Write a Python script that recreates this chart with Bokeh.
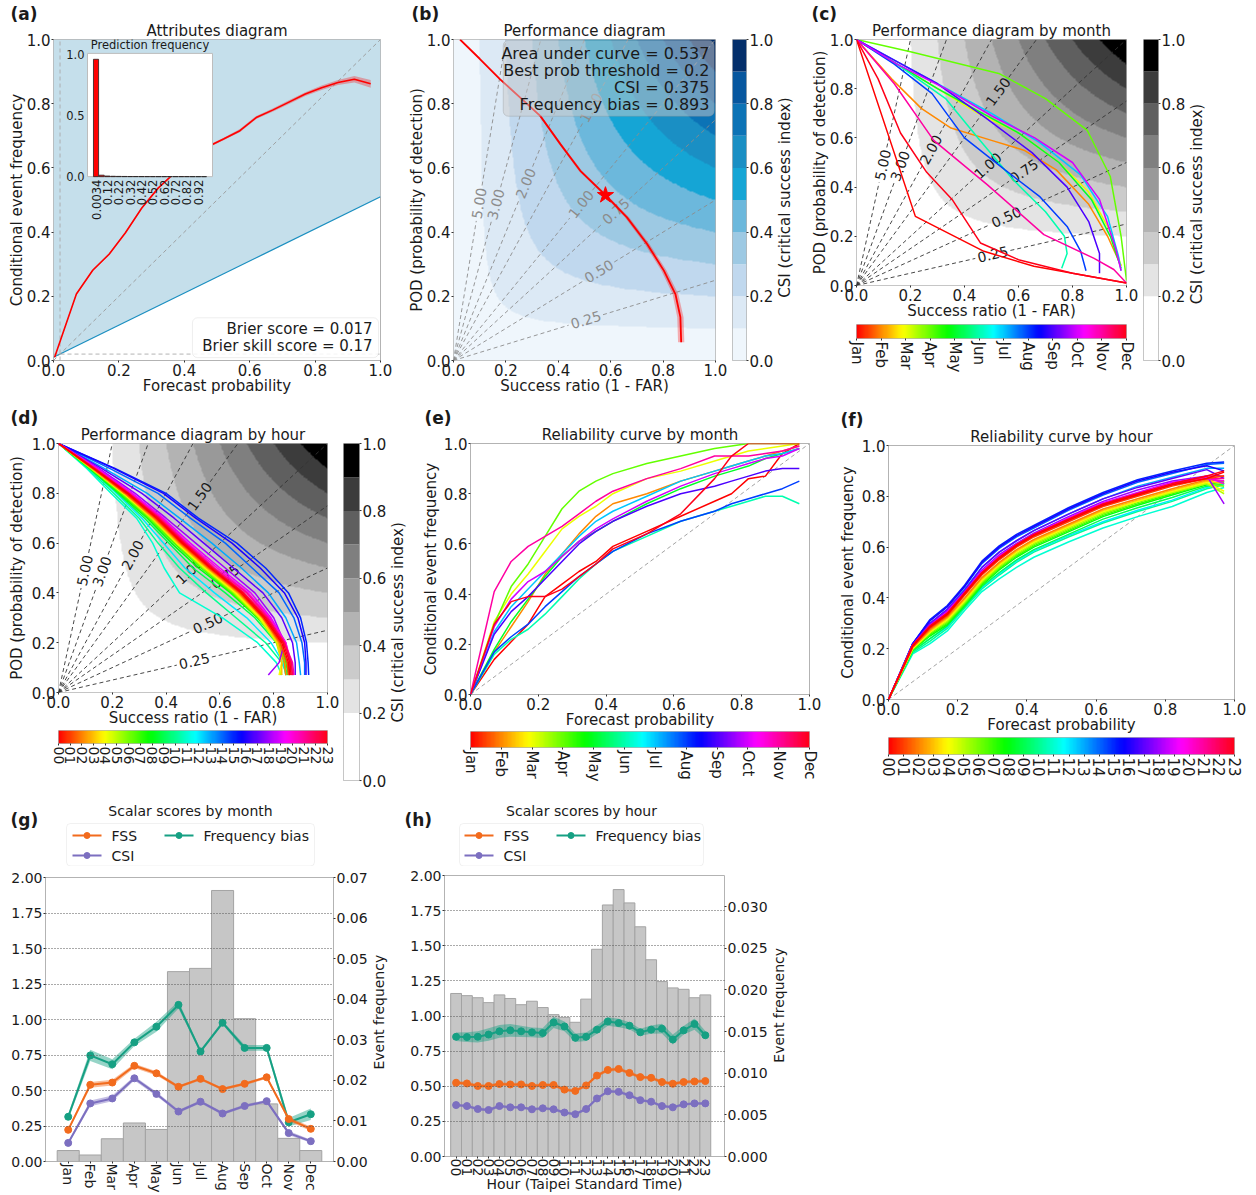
import math
import numpy as np
from bokeh.plotting import figure
from bokeh.layouts import row, column
from bokeh.models import (Range1d, LinearAxis, FixedTicker, PrintfTickFormatter, Label, Title,
                          BoxAnnotation, LinearColorMapper, Spacer)
from bokeh.embed import file_html
from bokeh.resources import INLINE
from bokeh.core.properties import value

FONT = "DejaVu Sans"
TXT = "#1a1a1a"

# ---------------------------------------------------------------- data
MONTHS = ["Jan", "Feb", "Mar", "Apr", "May", "Jun", "Jul", "Aug", "Sep", "Oct", "Nov", "Dec"]
HOURS = ["00", "01", "02", "03", "04", "05", "06", "07", "08", "09", "10", "11",
         "12", "13", "14", "15", "16", "17", "18", "19", "20", "21", "22", "23"]
UNIT_TICKS = [0.0, 0.2, 0.4, 0.6, 0.8, 1.0]
CSI_LEVELS = [0.0, 0.1, 0.2, 0.3, 0.4, 0.5, 0.6, 0.7, 0.8, 0.9, 1.0]
BLUES = ["#eff6fc", "#dce9f5", "#c0d8ee", "#9dc9e3", "#6cb8dc", "#15a5d5",
         "#1a8fc4", "#0c73b6", "#07579f", "#042f6b"]
GREYS = ["#ffffff", "#ffffff", "#e4e4e4", "#cbcbcb", "#b3b3b3", "#999999",
         "#7f7f7f", "#5f5f5f", "#3c3c3c", "#000000"]
BIAS_VALUES = [0.25, 0.5, 0.75, 1.0, 1.5, 2.0, 3.0, 5.0]
BIAS_LABEL_X = [0.505, 0.555, 0.62, 0.487, 0.525, 0.276, 0.162, 0.098]

# (a) attributes diagram
A_X = [0.0034, 0.07, 0.12, 0.17, 0.22, 0.27, 0.32, 0.37, 0.42, 0.47, 0.52, 0.57, 0.62, 0.67,
       0.72, 0.77, 0.82, 0.87, 0.92, 0.97]
A_Y = [0.01, 0.207, 0.281, 0.331, 0.398, 0.475, 0.537, 0.584, 0.63, 0.665, 0.69, 0.716, 0.757,
       0.78, 0.805, 0.83, 0.85, 0.866, 0.876, 0.862]
A_ERR = [0.002, 0.003, 0.003, 0.003, 0.003, 0.003, 0.003, 0.004, 0.004, 0.004, 0.004, 0.005,
         0.005, 0.005, 0.006, 0.006, 0.007, 0.008, 0.010, 0.012]
A_CLIM = 0.02
A_HIST = [0.96, 0.012, 0.005, 0.003, 0.002, 0.0015, 0.001, 0.001, 0.0008, 0.0006, 0.0005,
          0.0004, 0.0003, 0.0003, 0.0002, 0.0002, 0.0002, 0.0001, 0.0001, 0.0001]
A_HIST_LABELS = ["0.0034", "0.07", "0.12", "0.17", "0.22", "0.27", "0.32", "0.37", "0.42", "0.47",
                 "0.52", "0.57", "0.62", "0.67", "0.72", "0.77", "0.82", "0.87", "0.92", "0.97"]
A_TEXT = ["Brier score = 0.017", "Brier skill score = 0.17"]

# (b) performance diagram
B_SR = [0.025, 0.10, 0.178, 0.26, 0.331, 0.408, 0.484, 0.58, 0.662, 0.739, 0.803, 0.847, 0.866, 0.869]
B_POD = [1.0, 0.94, 0.876, 0.815, 0.762, 0.674, 0.591, 0.515, 0.446, 0.363, 0.28, 0.207, 0.135, 0.057]
B_ERR = [0.002, 0.002, 0.003, 0.003, 0.004, 0.005, 0.006, 0.007, 0.008, 0.009, 0.010, 0.011, 0.012, 0.012]
B_STAR = (0.58, 0.515)
B_TEXT = ["Area under curve = 0.537", "Best prob threshold = 0.2", "CSI = 0.375",
          "Frequency bias = 0.893"]

# (c) performance by month
C_SR = [
    [0.0, 0.218, 0.472, 0.657, 1.0],
    [0.0, 0.13, 0.24, 0.35, 0.5, 0.62, 0.74, 0.86, 0.93, 0.98],
    [0.0, 0.15, 0.3, 0.45, 0.6, 0.75, 0.86, 0.94, 0.98],
    [0.0, 0.2, 0.527, 0.7, 0.854, 0.94, 0.98, 1.0],
    [0.0, 0.15, 0.3, 0.45, 0.6, 0.75, 0.87, 0.94, 0.98],
    [0.0, 0.15, 0.33, 0.45, 0.58, 0.7, 0.77, 0.78, 0.76],
    [0.0, 0.15, 0.3, 0.5, 0.68, 0.83, 0.93, 0.97, 0.98],
    [0.0, 0.14, 0.28, 0.4, 0.55, 0.68, 0.78, 0.83, 0.85],
    [0.0, 0.15, 0.3, 0.48, 0.65, 0.78, 0.86, 0.9, 0.9],
    [0.0, 0.15, 0.33, 0.5, 0.66, 0.8, 0.9, 0.96, 0.98],
    [0.0, 0.14, 0.286, 0.484, 0.694, 0.88, 0.953, 1.0],
    [0.0, 0.08, 0.163, 0.26, 0.354, 0.459, 0.6, 0.8, 1.0],
]
C_POD = [
    [1.0, 0.281, 0.139, 0.078, 0.01],
    [1.0, 0.84, 0.72, 0.64, 0.59, 0.55, 0.47, 0.33, 0.2, 0.08],
    [1.0, 0.9, 0.8, 0.7, 0.62, 0.5, 0.38, 0.22, 0.08],
    [1.0, 0.95, 0.862, 0.76, 0.632, 0.443, 0.2, 0.02],
    [1.0, 0.9, 0.8, 0.71, 0.62, 0.5, 0.35, 0.2, 0.07],
    [1.0, 0.9, 0.76, 0.6, 0.43, 0.3, 0.2, 0.13, 0.07],
    [1.0, 0.91, 0.82, 0.7, 0.58, 0.45, 0.28, 0.12, 0.06],
    [1.0, 0.9, 0.78, 0.6, 0.47, 0.36, 0.24, 0.14, 0.06],
    [1.0, 0.91, 0.82, 0.68, 0.54, 0.4, 0.26, 0.13, 0.05],
    [1.0, 0.9, 0.8, 0.69, 0.6, 0.5, 0.35, 0.15, 0.06],
    [1.0, 0.82, 0.59, 0.41, 0.207, 0.11, 0.065, 0.01],
    [1.0, 0.84, 0.62, 0.46, 0.35, 0.173, 0.105, 0.05, 0.01],
]

# (d) performance by hour (success ratio at shared POD levels)
D_POD = [1.0, 0.9, 0.8, 0.7, 0.6, 0.5, 0.4, 0.3, 0.2, 0.12, 0.07]
D_SR = [
    [0, 0.13, 0.255, 0.365, 0.46, 0.565, 0.68, 0.765, 0.83, 0.855, 0.86],
    [0, 0.13, 0.25, 0.36, 0.455, 0.56, 0.675, 0.76, 0.825, 0.85, 0.855],
    [0, 0.125, 0.245, 0.355, 0.45, 0.555, 0.67, 0.76, 0.82, 0.84, 0.845],
    [0, 0.125, 0.245, 0.35, 0.445, 0.55, 0.665, 0.755, 0.815, 0.83, 0.83],
    [0, 0.125, 0.24, 0.35, 0.44, 0.545, 0.66, 0.75, 0.815, 0.83, 0.82],
    [0, 0.12, 0.24, 0.345, 0.44, 0.54, 0.655, 0.745, 0.81, 0.83, 0.825],
    [0, 0.12, 0.235, 0.34, 0.435, 0.535, 0.65, 0.745, 0.815, 0.84, 0.845],
    [0, 0.12, 0.23, 0.335, 0.43, 0.53, 0.645, 0.74, 0.82, 0.845, 0.855],
    [0, 0.115, 0.225, 0.33, 0.42, 0.52, 0.64, 0.74, 0.82, 0.85, 0.86],
    [0, 0.115, 0.22, 0.32, 0.41, 0.5, 0.62, 0.73, 0.81, 0.84, 0.85],
    [0, 0.11, 0.205, 0.3, 0.37, 0.45, 0.55, 0.66, 0.77, 0.83, 0.85],
    [0, 0.105, 0.195, 0.29, 0.35, 0.393, 0.45, 0.61, 0.74, 0.81, 0.83],
    [0, 0.115, 0.215, 0.31, 0.39, 0.47, 0.58, 0.7, 0.79, 0.835, 0.845],
    [0, 0.17, 0.33, 0.45, 0.57, 0.68, 0.78, 0.845, 0.885, 0.895, 0.9],
    [0, 0.19, 0.37, 0.49, 0.62, 0.72, 0.82, 0.875, 0.905, 0.915, 0.915],
    [0, 0.21, 0.40, 0.52, 0.663, 0.77, 0.855, 0.90, 0.922, 0.928, 0.93],
    [0, 0.205, 0.39, 0.51, 0.645, 0.75, 0.84, 0.89, 0.915, 0.92, 0.92],
    [0, 0.16, 0.31, 0.43, 0.54, 0.65, 0.76, 0.83, 0.87, 0.88, 0.88],
    [0, 0.15, 0.285, 0.4, 0.51, 0.62, 0.73, 0.8, 0.84, 0.82, 0.78],
    [0, 0.145, 0.275, 0.39, 0.49, 0.6, 0.715, 0.79, 0.845, 0.86, 0.86],
    [0, 0.14, 0.27, 0.385, 0.48, 0.59, 0.705, 0.785, 0.845, 0.865, 0.87],
    [0, 0.135, 0.265, 0.38, 0.475, 0.58, 0.7, 0.78, 0.84, 0.87, 0.875],
    [0, 0.135, 0.26, 0.375, 0.47, 0.575, 0.69, 0.775, 0.84, 0.865, 0.87],
    [0, 0.13, 0.26, 0.37, 0.465, 0.57, 0.685, 0.77, 0.835, 0.86, 0.865],
]

# (e) reliability by month
E_X = [0, 0.07, 0.12, 0.17, 0.22, 0.27, 0.32, 0.37, 0.42, 0.52, 0.62, 0.72, 0.77, 0.82, 0.87, 0.92, 0.97]
E_Y = [
    [0, 0.14, 0.21, 0.28, 0.39, 0.44, 0.49, 0.53, 0.59, 0.65, 0.71, 0.77, 0.80, 0.86, 0.87, 0.96, 1.0],
    [0, 0.17, 0.27, 0.37, 0.48, 0.56, 0.64, 0.71, 0.76, 0.80, 0.85, 0.89, 0.91, 0.93, 0.95, 0.97, 0.99],
    [0, 0.29, 0.40, 0.48, 0.57, 0.66, 0.71, 0.75, 0.80, 0.86, 0.89, 0.93, 0.95, 0.97, 0.98, 0.99, 1.0],
    [0, 0.28, 0.43, 0.52, 0.63, 0.74, 0.81, 0.85, 0.88, 0.92, 0.95, 0.98, 0.99, 1.0, 1.0, 1.0, 1.0],
    [0, 0.18, 0.29, 0.38, 0.47, 0.55, 0.61, 0.65, 0.69, 0.76, 0.82, 0.87, 0.89, 0.91, 0.94, 0.96, 0.98],
    [0, 0.16, 0.22, 0.26, 0.32, 0.39, 0.46, 0.52, 0.57, 0.63, 0.69, 0.73, 0.75, 0.77, 0.79, 0.79, 0.76],
    [0, 0.25, 0.35, 0.42, 0.49, 0.56, 0.63, 0.69, 0.73, 0.79, 0.85, 0.89, 0.91, 0.93, 0.95, 0.96, 0.98],
    [0, 0.17, 0.23, 0.28, 0.35, 0.41, 0.47, 0.52, 0.57, 0.64, 0.69, 0.73, 0.76, 0.78, 0.80, 0.82, 0.85],
    [0, 0.24, 0.33, 0.39, 0.46, 0.53, 0.60, 0.65, 0.69, 0.75, 0.80, 0.83, 0.85, 0.87, 0.89, 0.90, 0.90],
    [0, 0.27, 0.38, 0.45, 0.49, 0.55, 0.61, 0.66, 0.70, 0.77, 0.83, 0.88, 0.90, 0.92, 0.94, 0.95, 0.98],
    [0, 0.41, 0.53, 0.59, 0.63, 0.67, 0.72, 0.77, 0.81, 0.86, 0.90, 0.95, 0.95, 0.95, 0.96, 0.97, 0.99],
    [0, 0.28, 0.37, 0.39, 0.39, 0.42, 0.47, 0.52, 0.58, 0.64, 0.72, 0.86, 0.95, 1.0, 1.0, 1.0, 1.0],
]

# (f) reliability by hour
F_X = [0, 0.07, 0.12, 0.17, 0.22, 0.27, 0.32, 0.37, 0.42, 0.52, 0.62, 0.72, 0.82, 0.92, 0.97]
F_Y = [
    [0, 0.21, 0.285, 0.335, 0.415, 0.495, 0.555, 0.605, 0.645, 0.705, 0.765, 0.805, 0.845, 0.87, 0.895],
    [0, 0.21, 0.28, 0.33, 0.41, 0.49, 0.55, 0.60, 0.64, 0.70, 0.76, 0.80, 0.84, 0.87, 0.88],
    [0, 0.205, 0.275, 0.325, 0.40, 0.48, 0.54, 0.59, 0.63, 0.69, 0.75, 0.79, 0.83, 0.865, 0.86],
    [0, 0.205, 0.27, 0.32, 0.395, 0.475, 0.535, 0.585, 0.625, 0.685, 0.745, 0.785, 0.825, 0.86, 0.85],
    [0, 0.2, 0.265, 0.315, 0.39, 0.47, 0.53, 0.58, 0.62, 0.68, 0.74, 0.78, 0.82, 0.855, 0.82],
    [0, 0.2, 0.265, 0.31, 0.385, 0.465, 0.525, 0.575, 0.615, 0.675, 0.735, 0.78, 0.815, 0.85, 0.81],
    [0, 0.2, 0.26, 0.305, 0.38, 0.46, 0.52, 0.57, 0.61, 0.67, 0.73, 0.775, 0.815, 0.85, 0.84],
    [0, 0.195, 0.255, 0.3, 0.375, 0.455, 0.515, 0.565, 0.605, 0.665, 0.725, 0.77, 0.81, 0.85, 0.855],
    [0, 0.195, 0.25, 0.295, 0.37, 0.45, 0.51, 0.56, 0.60, 0.66, 0.72, 0.765, 0.805, 0.845, 0.86],
    [0, 0.19, 0.24, 0.29, 0.365, 0.445, 0.5, 0.55, 0.59, 0.65, 0.71, 0.755, 0.795, 0.84, 0.85],
    [0, 0.185, 0.23, 0.28, 0.36, 0.435, 0.49, 0.54, 0.58, 0.64, 0.695, 0.74, 0.78, 0.83, 0.845],
    [0, 0.18, 0.22, 0.27, 0.35, 0.425, 0.475, 0.52, 0.56, 0.62, 0.675, 0.72, 0.76, 0.815, 0.835],
    [0, 0.19, 0.24, 0.285, 0.365, 0.44, 0.495, 0.545, 0.585, 0.645, 0.7, 0.745, 0.785, 0.835, 0.85],
    [0, 0.215, 0.3, 0.355, 0.435, 0.52, 0.58, 0.625, 0.665, 0.73, 0.79, 0.84, 0.875, 0.91, 0.91],
    [0, 0.22, 0.31, 0.365, 0.445, 0.535, 0.595, 0.64, 0.675, 0.745, 0.805, 0.855, 0.89, 0.925, 0.93],
    [0, 0.22, 0.315, 0.37, 0.45, 0.545, 0.605, 0.65, 0.685, 0.755, 0.815, 0.865, 0.9, 0.93, 0.935],
    [0, 0.22, 0.31, 0.365, 0.445, 0.54, 0.60, 0.645, 0.68, 0.75, 0.81, 0.86, 0.895, 0.92, 0.90],
    [0, 0.215, 0.3, 0.355, 0.43, 0.52, 0.58, 0.625, 0.665, 0.73, 0.79, 0.835, 0.87, 0.905, 0.87],
    [0, 0.215, 0.295, 0.35, 0.425, 0.51, 0.57, 0.615, 0.655, 0.72, 0.78, 0.825, 0.86, 0.88, 0.77],
    [0, 0.215, 0.29, 0.345, 0.42, 0.505, 0.565, 0.61, 0.65, 0.715, 0.775, 0.815, 0.855, 0.875, 0.85],
    [0, 0.21, 0.29, 0.34, 0.42, 0.5, 0.56, 0.61, 0.65, 0.71, 0.77, 0.81, 0.85, 0.87, 0.86],
    [0, 0.21, 0.285, 0.34, 0.415, 0.5, 0.56, 0.605, 0.645, 0.71, 0.77, 0.81, 0.845, 0.87, 0.87],
    [0, 0.21, 0.285, 0.335, 0.415, 0.495, 0.555, 0.605, 0.645, 0.705, 0.765, 0.805, 0.845, 0.88, 0.88],
    [0, 0.215, 0.29, 0.34, 0.42, 0.5, 0.56, 0.61, 0.65, 0.71, 0.77, 0.81, 0.85, 0.88, 0.90],
]
# drawing order of the hourly curves (later = on top)
HOUR_ORDER = [11, 10, 12, 9, 8, 7, 6, 5, 4, 3, 2, 13, 14, 15, 16, 17, 18, 19, 20, 21, 22, 23, 1, 0]

# (g) scalar scores by month
G_FREQ = [0.0027, 0.0016, 0.0056, 0.0095, 0.0079, 0.0468, 0.0476, 0.0668, 0.0352, 0.0142, 0.0057, 0.0027]
G_FSS = [0.223, 0.540, 0.556, 0.674, 0.621, 0.526, 0.582, 0.510, 0.547, 0.593, 0.299, 0.230]
G_CSI = [0.131, 0.409, 0.444, 0.586, 0.476, 0.352, 0.421, 0.338, 0.391, 0.425, 0.200, 0.143]
G_BIAS = [0.315, 0.747, 0.685, 0.839, 0.949, 1.103, 0.775, 0.977, 0.800, 0.800, 0.276, 0.333]
G_FSS_ERR = [0.01, 0.02, 0.02, 0.015, 0.015, 0.01, 0.01, 0.01, 0.01, 0.01, 0.015, 0.015]
G_CSI_ERR = [0.01, 0.02, 0.02, 0.015, 0.015, 0.01, 0.01, 0.01, 0.01, 0.01, 0.015, 0.01]
G_BIAS_ERR = [0.02, 0.04, 0.035, 0.025, 0.035, 0.025, 0.012, 0.012, 0.02, 0.02, 0.03, 0.04]

# (h) scalar scores by hour
H_FREQ = [0.01958, 0.01932, 0.01907, 0.01848, 0.01941, 0.01898, 0.01823, 0.01865, 0.01789, 0.01704,
          0.01671, 0.01612, 0.0189, 0.02489, 0.03021, 0.03206, 0.03046, 0.02759, 0.02363, 0.02101,
          0.02025, 0.02008, 0.01907, 0.01941]
H_BIAS = [0.852, 0.850, 0.852, 0.868, 0.891, 0.898, 0.891, 0.884, 0.879, 0.954, 0.926, 0.845,
          0.852, 0.903, 0.961, 0.950, 0.931, 0.884, 0.903, 0.910, 0.833, 0.898, 0.943, 0.863]
H_FSS = [0.525, 0.520, 0.502, 0.502, 0.516, 0.513, 0.513, 0.502, 0.509, 0.509, 0.476, 0.467,
         0.506, 0.576, 0.616, 0.623, 0.595, 0.565, 0.560, 0.530, 0.518, 0.530, 0.534, 0.537]
H_CSI = [0.366, 0.359, 0.338, 0.331, 0.359, 0.350, 0.350, 0.336, 0.343, 0.336, 0.313, 0.301,
         0.338, 0.413, 0.464, 0.460, 0.436, 0.401, 0.390, 0.359, 0.350, 0.371, 0.378, 0.378]
H_BIAS_ERR = [0.03, 0.035, 0.04, 0.045, 0.045, 0.045, 0.04, 0.035, 0.035, 0.04, 0.035, 0.03,
              0.03, 0.03, 0.03, 0.03, 0.025, 0.025, 0.03, 0.035, 0.035, 0.03, 0.04, 0.03]
H_FSS_ERR = [0.012] * 24
H_CSI_ERR = [0.01] * 24

FSS_C = "#f26b1d"
CSI_C = "#7c6fc0"
BIAS_C = "#16a083"


# ---------------------------------------------------------------- helpers
def mpl_hsv(v):
    r = np.interp(v, [0, 0.158730, 0.174603, 0.333333, 0.349206, 0.666667, 0.682540, 0.841270, 0.857143, 1],
                  [1, 1, 0.96875, 0.03125, 0, 0, 0.03125, 0.96875, 1, 1])
    g = np.interp(v, [0, 0.158730, 0.174603, 0.507937, 0.666667, 0.682540, 1],
                  [0, 0.9375, 1, 1, 0.0625, 0, 0])
    b = np.interp(v, [0, 0.333333, 0.349206, 0.507937, 0.841270, 0.857143, 1],
                  [0, 0, 0.0625, 1, 1, 0.9375, 0.09375])
    return "#%02x%02x%02x" % (int(round(r * 255)), int(round(g * 255)), int(round(b * 255)))


HSV256 = [mpl_hsv(i / 255) for i in range(256)]
MONTH_COLORS = [mpl_hsv(i / 11) for i in range(12)]
HOUR_COLORS = [mpl_hsv(i / 23) for i in range(24)]


def style_axis(ax, fs="15px", label_standoff=-2):
    ax.major_label_text_font = FONT
    ax.major_label_text_font_size = fs
    ax.major_label_text_color = TXT
    ax.axis_label_text_font = FONT
    ax.axis_label_text_font_size = fs
    ax.axis_label_text_font_style = "normal"
    ax.axis_label_text_color = TXT
    ax.axis_line_color = None
    ax.major_tick_line_color = "#333333"
    ax.major_tick_out = 2
    ax.major_tick_in = 0
    ax.minor_tick_line_color = None
    ax.major_label_standoff = 1
    ax.axis_label_standoff = label_standoff


def mkfig(fl, fw, fr, ft, fh, fb, xr, yr, xaxis=True, yaxis=True, outline="#b3b3b3"):
    p = figure(width=fl + fw + fr, height=ft + fh + fb, x_range=xr, y_range=yr,
               output_backend="svg", toolbar_location=None,
               x_axis_location="below" if xaxis else None,
               y_axis_location="left" if yaxis else None,
               min_border_left=fl, min_border_right=fr, min_border_top=ft, min_border_bottom=fb)
    p.outline_line_color = outline
    p.xgrid.visible = False
    p.ygrid.visible = False
    p.background_fill_color = "white"
    p.border_fill_color = "white"
    for ax in p.axis:
        style_axis(ax)
    return p


def unit_axes(p, xlabel, ylabel, ystand=-2):
    p.xaxis.ticker = FixedTicker(ticks=UNIT_TICKS)
    p.yaxis.ticker = FixedTicker(ticks=UNIT_TICKS)
    p.xaxis.formatter = PrintfTickFormatter(format="%.1f")
    p.yaxis.formatter = PrintfTickFormatter(format="%.1f")
    p.xaxis.axis_label = xlabel
    p.yaxis.axis_label = ylabel
    p.yaxis.axis_label_standoff = ystand


def titles(p, title, letter, letter_dx):
    # outermost line: bold panel letter; line next to the frame: the panel title
    p.title.text = letter
    p.title.align = "left"
    p.title.offset = letter_dx
    p.title.text_font = FONT
    p.title.text_font_size = "17px"
    p.title.text_font_style = "bold"
    p.title.text_color = TXT
    p.title.standoff = -9
    p.add_layout(Title(text=title, align="center", text_font=FONT, text_font_size="15px",
                       text_font_style="normal", text_color=TXT, standoff=0), "above")


def strip(w, h, lx, ly, text, size="15px"):
    # narrow figure holding one rotated text (lx, ly measured from its top-left)
    p = mkfig(0, w, 0, 0, h, 0, Range1d(0, w), Range1d(0, h), False, False, outline=None)
    p.text(x=[lx], y=[h - ly], text=[text], angle=math.pi / 2, text_align="center",
           text_baseline="middle", text_font=value(FONT), text_font_size=size, text_color=TXT)
    return p


def csi_image(p, palette):
    n = 400
    g = (np.arange(n) + 0.5) / n
    sr, pod = np.meshgrid(g, g)
    csi = 1.0 / (1.0 / sr + 1.0 / pod - 1.0)
    p.image(image=[csi], x=0, y=0, dw=1, dh=1,
            color_mapper=LinearColorMapper(palette=palette, low=0, high=1))


def bias_lines(p, fw, fh, lcolor, tcolor):
    xs, ys = [], []
    for b, lx in zip(BIAS_VALUES, BIAS_LABEL_X):
        ex, ey = min(1.0, 1.0 / b), min(1.0, b)
        dx = 18.0 / math.hypot(fw, b * fh)
        xs += [[0, lx - dx], [lx + dx, ex]]
        ys += [[0, b * (lx - dx)], [b * (lx + dx), ey]]
    p.multi_line(xs, ys, line_color=lcolor, line_dash="4 3", line_width=0.9)
    p.text(x=BIAS_LABEL_X, y=[b * x for b, x in zip(BIAS_VALUES, BIAS_LABEL_X)],
           text=["%.2f" % b for b in BIAS_VALUES],
           angle=[math.atan2(b * fh, fw) for b in BIAS_VALUES],
           text_align="center", text_baseline="middle", text_font=value(FONT),
           text_font_size="14px", text_color=tcolor)


def vcbar(fl, fw, fr, ft, fh, fb, palette):
    p = mkfig(fl, fw, fr, ft, fh, fb, Range1d(0, 1), Range1d(0, 1), False, False)
    p.quad(left=0, right=1, bottom=CSI_LEVELS[:-1], top=CSI_LEVELS[1:], fill_color=palette,
           line_color=None)
    ax = LinearAxis(ticker=FixedTicker(ticks=UNIT_TICKS), formatter=PrintfTickFormatter(format="%.1f"))
    style_axis(ax)
    p.add_layout(ax, "right")
    return p


def hbar(fl, fw, fr, ft, fh, fb, labels, fs):
    n = len(labels)
    p = mkfig(fl, fw, fr, ft, fh, fb, Range1d(0, n - 1), Range1d(0, 1), False, False)
    grad = np.linspace(0, 1, 256).reshape(1, 256)
    p.image(image=[grad], x=0, y=0, dw=n - 1, dh=1,
            color_mapper=LinearColorMapper(palette=HSV256, low=0, high=1))
    ax = LinearAxis(ticker=FixedTicker(ticks=list(range(n))),
                    major_label_overrides={i: t for i, t in enumerate(labels)})
    style_axis(ax, fs)
    ax.major_label_orientation = "vertical"
    p.add_layout(ax, "below")
    return p


CSI_TITLE = "CSI (critical success index)"

# ---------------------------------------------------------------- (a)  page x 0-400
pa = mkfig(53, 327, 20, 37, 323, 44, Range1d(0, 1), Range1d(0, 1))
unit_axes(pa, "Forecast probability", "Conditional event frequency")
titles(pa, "Attributes diagram", "(a)", -43)
pa.patch([0, 0, 1, 1, 0], [0, 1, 1, (1 + A_CLIM) / 2, A_CLIM / 2], fill_color="#c5dfeb",
         line_color=None)
pa.line([0, 1], [A_CLIM / 2, (1 + A_CLIM) / 2], line_color="#1b8fc0", line_width=1.3)
pa.line([0, 1], [0, 1], line_color="#999999", line_dash="4 3", line_width=0.9)
pa.line([A_CLIM, A_CLIM], [0, 1], line_color="#aaaaaa", line_dash="4 3", line_width=0.9)
pa.line([0, 1], [A_CLIM, A_CLIM], line_color="#aaaaaa", line_dash="4 3", line_width=0.9)
pa.varea(x=A_X, y1=[y - e for y, e in zip(A_Y, A_ERR)], y2=[y + e for y, e in zip(A_Y, A_ERR)],
         fill_color="red", fill_alpha=0.3)
pa.line(A_X, A_Y, line_color="red", line_width=1.6)

# inset histogram (own ranges mapped into a sub-box of the frame)
IX0, IX1, IY0, IY1 = -1.5, 20.5, 0.0, 1.008
fx0, fx1 = (87 - 53) / 327, (212 - 53) / 327
fy0, fy1 = (360 - 175) / 323, (360 - 51) / 323
sx = (IX1 - IX0) / (fx1 - fx0)
sy = (IY1 - IY0) / (fy1 - fy0)
pa.extra_x_ranges = {"ix": Range1d(IX0 - fx0 * sx, IX0 - fx0 * sx + sx)}
pa.extra_y_ranges = {"iy": Range1d(IY0 - fy0 * sy, IY0 - fy0 * sy + sy)}
bins = list(range(len(A_HIST)))
pa.quad(left=IX0, right=IX1, bottom=IY0, top=IY1, x_range_name="ix", y_range_name="iy",
        fill_color="white", line_color="#bdbdbd")
pa.vbar(x=bins, top=A_HIST, width=0.9, bottom=0, x_range_name="ix", y_range_name="iy",
        fill_color="red", line_color="#222222", line_width=0.8)
pa.text(x=[IX0] * 3, y=[0.0, 0.5, 1.0], text=["0.0", "0.5", "1.0"], x_range_name="ix",
        y_range_name="iy", x_offset=-3, text_align="right", text_baseline="middle",
        text_font=value(FONT), text_font_size="11.5px", text_color=TXT)
pa.text(x=bins[::2], y=[0.0] * len(bins[::2]), text=A_HIST_LABELS[::2], x_range_name="ix",
        y_range_name="iy", y_offset=3, angle=math.pi / 2, text_align="right",
        text_baseline="middle", text_font=value(FONT), text_font_size="11.5px", text_color=TXT)
pa.text(x=[(IX0 + IX1) / 2], y=[IY1], text=["Prediction frequency"], x_range_name="ix",
        y_range_name="iy", y_offset=-1, text_align="center", text_baseline="bottom",
        text_font=value(FONT), text_font_size="11.5px", text_color=TXT)
pa.add_layout(BoxAnnotation(left=0.425, right=0.994, bottom=0.009, top=0.133, fill_color="white",
                            fill_alpha=0.85, line_color="#c8c8c8", line_width=1, border_radius=5))
for t, yy in zip(A_TEXT, [0.099, 0.046]):
    pa.add_layout(Label(x=0.976, y=yy, text=t, text_align="right", text_baseline="middle",
                        text_font=FONT, text_font_size="15px", text_color=TXT))

# ---------------------------------------------------------------- (b)  page x 400-800
pb = mkfig(53, 262, 15, 38, 322, 44, Range1d(0, 1), Range1d(0, 1))
unit_axes(pb, "Success ratio (1 - FAR)", "POD (probability of detection)")
titles(pb, "Performance diagram", "(b)", -42)
csi_image(pb, BLUES)
bias_lines(pb, 262, 322, "#8c8c8c", "#8c8c8c")
pb.harea(y=B_POD, x1=[s - e for s, e in zip(B_SR, B_ERR)], x2=[s + e for s, e in zip(B_SR, B_ERR)],
         fill_color="red", fill_alpha=0.3)
pb.line(B_SR, B_POD, line_color="red", line_width=1.8)
pb.scatter([B_STAR[0]], [B_STAR[1]], marker="star", size=17, fill_color="red", line_color="red")
pb.add_layout(BoxAnnotation(left=0.19, right=0.995, bottom=0.761, top=0.997, fill_color="#cccccc",
                            fill_alpha=0.5, line_color="#8a8a8a", line_width=1, border_radius=5))
for t, yy in zip(B_TEXT, [0.957, 0.904, 0.851, 0.798]):
    pb.add_layout(Label(x=0.977, y=yy, text=t, text_align="right", text_baseline="middle",
                        text_font=FONT, text_font_size="16px", text_color=TXT))
cbb = vcbar(2, 16, 28, 38, 322, 44, BLUES)          # page x 730-776
sbb = strip(24, 404, 8, 199, CSI_TITLE)               # page x 776-800

# ---------------------------------------------------------------- (c)  page x 800-1256
pc = mkfig(56, 270, 14, 39, 247, 36, Range1d(0, 1), Range1d(0, 1))
unit_axes(pc, "Success ratio (1 - FAR)", "POD (probability of detection)")
titles(pc, "Performance diagram by month", "(c)", -45)
csi_image(pc, GREYS)
bias_lines(pc, 270, 247, "#333333", TXT)
for i in range(12):
    pc.line(C_SR[i], C_POD[i], line_color=MONTH_COLORS[i], line_width=1.5)
hc = hbar(56, 270, 14, 2, 14, 66, MONTHS, "15px")
cbc = vcbar(3, 17, 28, 39, 336, 29, GREYS)          # page x 1140-1188
sbc = strip(68, 404, 8, 207, CSI_TITLE)               # page x 1188-1256

# ---------------------------------------------------------------- (d)  page y 404-794
pd_ = mkfig(58, 269, 14, 39, 250, 36, Range1d(0, 1), Range1d(0, 1))
unit_axes(pd_, "Success ratio (1 - FAR)", "POD (probability of detection)", ystand=3)
titles(pd_, "Performance diagram by hour", "(d)", -48)
csi_image(pd_, GREYS)
bias_lines(pd_, 269, 250, "#333333", TXT)
for i in HOUR_ORDER:
    pd_.line(D_SR[i], D_POD, line_color=HOUR_COLORS[i], line_width=1.5)
hd = hbar(58, 269, 14, 1, 13, 51, HOURS, "14px")
cbd = vcbar(2, 18, 28, 39, 337, 14, GREYS)          # page x 341-389
sbd = strip(27, 390, 8, 207, CSI_TITLE)               # page x 389-416

# ---------------------------------------------------------------- (e)  page x 416-823
pe = mkfig(54, 339, 14, 39, 251, 37, Range1d(0, 1), Range1d(0, 1))
unit_axes(pe, "Forecast probability", "Conditional event frequency", ystand=1)
titles(pe, "Reliability curve by month", "(e)", -46)
pe.line([0, 1], [0, 1], line_color="#999999", line_dash="4 3", line_width=0.9)
for i in range(12):
    pe.line(E_X, E_Y[i], line_color=MONTH_COLORS[i], line_width=1.5)
he = hbar(54, 339, 14, 0, 16, 47, MONTHS, "15px")

# ---------------------------------------------------------------- (f)  page x 823-1256
pf = mkfig(65, 346, 22, 41, 254, 38, Range1d(0, 1), Range1d(0, 1))
unit_axes(pf, "Forecast probability", "Conditional event frequency", ystand=2)
titles(pf, "Reliability curve by hour", "(f)", -48)
pf.line([0, 1], [0, 1], line_color="#999999", line_dash="4 3", line_width=0.9)
for i in HOUR_ORDER:
    pf.line(F_X, F_Y[i], line_color=HOUR_COLORS[i], line_width=1.5)
hf = hbar(65, 346, 22, 0, 17, 40, HOURS, "15px")


# ---------------------------------------------------------------- (g), (h)
def scores_panel(fl, fw, fr, ft, fh, fb, xr, labels, freq, fss, csi, bias,
                 fss_e, csi_e, bias_e, fmax, rticks, rfmt, xlabel):
    p = mkfig(fl, fw, fr, ft, fh, fb, xr, Range1d(0, 2.0))
    for ax in p.axis:
        style_axis(ax, "14px")
    x = list(range(len(labels)))
    p.extra_y_ranges = {"freq": Range1d(0, fmax)}
    p.vbar(x=x, top=freq, width=1.0, bottom=0, y_range_name="freq", fill_color="#c6c6c6",
           line_color="#a3a3a3", line_width=1)
    for vals, err, col in [(bias, bias_e, BIAS_C), (fss, fss_e, FSS_C), (csi, csi_e, CSI_C)]:
        p.varea(x=x, y1=[v - e for v, e in zip(vals, err)], y2=[v + e for v, e in zip(vals, err)],
                fill_color=col, fill_alpha=0.45)
        p.line(x, vals, line_color=col, line_width=2)
        p.scatter(x, vals, size=7, fill_color=col, line_color=col)
    p.yaxis.ticker = FixedTicker(ticks=[0, 0.25, 0.5, 0.75, 1.0, 1.25, 1.5, 1.75, 2.0])
    p.yaxis.formatter = PrintfTickFormatter(format="%.2f")
    p.xaxis.ticker = FixedTicker(ticks=x)
    p.xaxis.major_label_overrides = {i: t for i, t in enumerate(labels)}
    p.xaxis.major_label_orientation = "vertical"
    p.xaxis.major_label_standoff = 0
    if xlabel:
        p.xaxis.axis_label = xlabel
        p.xaxis.axis_label_standoff = -3
    p.ygrid.visible = True
    p.ygrid.ticker = FixedTicker(ticks=[0.25, 0.5, 0.75, 1.0, 1.25, 1.5, 1.75])
    p.ygrid.grid_line_color = "#555555"
    p.ygrid.grid_line_dash = "1 2"
    p.ygrid.grid_line_width = 1
    p.ygrid.level = "overlay"
    rax = LinearAxis(y_range_name="freq", ticker=FixedTicker(ticks=rticks),
                     formatter=PrintfTickFormatter(format=rfmt))
    style_axis(rax, "14px")
    p.add_layout(rax, "right")
    return p


def scores_header(ox, letter, letter_gx, title, title_gx, box, fss_x, bias_x):
    # header band (page y 794-866) drawn in page-pixel coordinates
    p = mkfig(0, 400, 0, 0, 72, 0, Range1d(ox, ox + 400), Range1d(866, 794), False, False,
              outline=None)
    p.text(x=[letter_gx], y=[819], text=[letter], text_align="left", text_baseline="middle",
           text_font=value(FONT), text_font_size="17px", text_font_style="bold", text_color=TXT)
    p.text(x=[title_gx], y=[810], text=[title], text_align="center", text_baseline="middle",
           text_font=value(FONT), text_font_size="14px", text_color=TXT)
    p.add_layout(BoxAnnotation(left=box[0], right=box[1], top=823, bottom=865.5, fill_color="white",
                               line_color="#cfcfcf", line_width=1, border_radius=4, level="underlay"))
    for (lx, ly), col, name in [((fss_x, 835), FSS_C, "FSS"), ((fss_x, 855), CSI_C, "CSI"),
                                ((bias_x, 835), BIAS_C, "Frequency bias")]:
        p.line([lx, lx + 29], [ly, ly], line_color=col, line_width=2)
        p.scatter([lx + 14.5], [ly], size=6, fill_color=col, line_color=col)
        p.text(x=[lx + 39], y=[ly], text=[name], text_align="left", text_baseline="middle",
               text_font=value(FONT), text_font_size="14px", text_color=TXT)
    return p


pg = scores_panel(45, 290, 35, 11, 286, 32, Range1d(-1.03, 12.03), MONTHS, G_FREQ, G_FSS,
                  G_CSI, G_BIAS, G_FSS_ERR, G_CSI_ERR, G_BIAS_ERR, 0.07,
                  [0, 0.01, 0.02, 0.03, 0.04, 0.05, 0.06, 0.07], "%.2f", None)   # page x 0-370
sg = strip(30, 329, 8, 1022 - 866, "Event frequency", "14px")                    # page x 370-400
hg = scores_header(0, "(g)", 10, "Scalar scores by month", 190, (66, 314), 72, 164)

ph = scores_panel(44, 282, 44, 9, 285, 35, Range1d(-1.07, 24.77), HOURS, H_FREQ, H_FSS,
                  H_CSI, H_BIAS, H_FSS_ERR, H_CSI_ERR, H_BIAS_ERR, 0.03375,
                  [0, 0.005, 0.01, 0.015, 0.02, 0.025, 0.03], "%.3f",
                  "Hour (Taipei Standard Time)")                                   # page x 400-770
sh = strip(30, 329, 8, 1018 - 866, "Event frequency", "14px")                    # page x 770-800
hh = scores_header(400, "(h)", 404, "Scalar scores by hour", 581, (459, 703), 464, 556)

# ---------------------------------------------------------------- layout
row1 = row(pa, pb, cbb, sbb, column(pc, hc), cbc, sbc)
row2 = row(column(pd_, hd), cbd, sbd, column(pe, he), column(pf, hf))
row3 = row(column(hg, row(pg, sg)), column(hh, row(ph, sh)), Spacer(width=456, height=401))
layout = column(row1, row2, row3)

open("out.html", "w").write(file_html(layout, INLINE))
